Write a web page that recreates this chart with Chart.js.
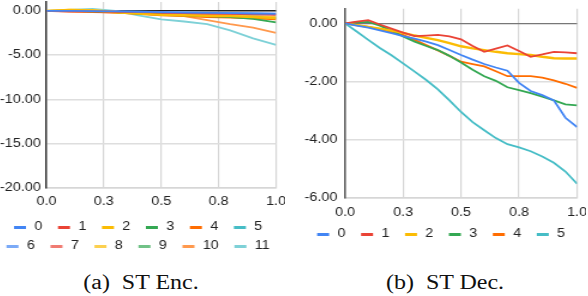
<!DOCTYPE html>
<html>
<head>
<meta charset="utf-8">
<script src="https://cdn.jsdelivr.net/npm/chart.js@4.4.1/dist/chart.umd.min.js"></script>
<style>
html, body { margin: 0; padding: 0; background: #fff; width: 588px; height: 296px; overflow: hidden; position: relative; }
.box { position: absolute; top: 0; }
.box canvas { display: block; }
.cap { position: absolute; top: 271.5px; width: 200px; text-align: center; white-space: pre;
       font: 20px/20px "Liberation Serif", "Times New Roman", serif; color: #111; transform: scaleX(1.2); }
</style>
</head>
<body>
<div class="box" style="left:-15.8px"><canvas id="enc" width="251" height="262" style="width:301.2px;height:262px"></canvas></div>
<div class="box" style="left:288.8px"><canvas id="dec" width="248" height="250" style="width:297.6px;height:250px"></canvas></div>
<div class="cap" style="left:41px">(a)  ST Enc.</div>
<div class="cap" style="left:344.7px">(b)  ST Dec.</div>
<script>
// x ticks shared by both panels
var xTicks = [0, 0.25, 0.5, 0.75, 1];

// (a) encoder: 12 layers
var encX = [0, 0.1, 0.2, 0.3, 0.4, 0.5, 0.6, 0.7, 0.8, 0.9, 1.0];
var encTicks = [-20, -15, -10, -5, 0];
var enc0  = [0, 0, -0.02, -0.05, -0.1, -0.15, -0.2, -0.22, -0.25, -0.3, -0.35];
var enc1  = [0, -0.02, -0.05, -0.1, -0.15, -0.2, -0.25, -0.3, -0.35, -0.4, -0.45];
var enc2  = [0, 0.1, 0.05, -0.15, -0.3, -0.45, -0.5, -0.55, -0.6, -0.7, -0.8];
var enc3  = [0, 0, -0.05, -0.15, -0.3, -0.4, -0.5, -0.6, -0.7, -0.9, -1.3];
var enc4  = [0, -0.05, -0.1, -0.2, -0.35, -0.5, -0.6, -0.7, -0.75, -0.85, -0.95];
var enc5  = [0, 0, -0.05, -0.15, -0.3, -0.45, -0.55, -0.6, -0.65, -0.75, -0.85];
var enc6  = [0, 0, 0, -0.05, -0.1, -0.12, -0.15, -0.2, -0.22, -0.25, -0.3];
var enc7  = [0, -0.1, -0.15, -0.2, -0.25, -0.28, -0.3, -0.32, -0.3, -0.35, -0.4];
var enc8  = [0, 0.15, 0.1, -0.1, -0.25, -0.35, -0.4, -0.45, -0.5, -0.6, -0.7];
var enc9  = [0, 0, -0.05, -0.1, -0.2, -0.3, -0.4, -0.45, -0.5, -0.6, -0.7];
var enc10 = [0, 0, -0.05, -0.1, -0.2, -0.35, -0.6, -1.05, -1.5, -1.9, -2.48];
var enc11 = [0, 0.1, 0.22, 0, -0.5, -0.95, -1.2, -1.5, -2.2, -3.1, -3.85];

// (b) decoder: 6 layers
var decX = [0, 0.05, 0.1, 0.15, 0.2, 0.25, 0.3, 0.35, 0.4, 0.45, 0.5, 0.55, 0.6, 0.65, 0.7, 0.75, 0.8, 0.85, 0.9, 0.95, 1.0];
var decTicks = [-6, -4, -2, 0];
var dec0 = [0, -0.08, -0.15, -0.24, -0.34, -0.44, -0.53, -0.63, -0.75, -0.92, -1.09, -1.25, -1.4, -1.52, -1.63, -2.05, -2.33, -2.47, -2.65, -3.25, -3.57];
var dec1 = [0, 0.06, 0.11, -0.04, -0.18, -0.32, -0.44, -0.42, -0.4, -0.45, -0.55, -0.78, -0.98, -0.87, -0.76, -0.95, -1.15, -1.07, -0.98, -1.0, -1.03];
var dec2 = [0, -0.06, -0.12, -0.18, -0.25, -0.33, -0.42, -0.5, -0.58, -0.68, -0.79, -0.86, -0.92, -0.98, -1.03, -1.06, -1.09, -1.15, -1.2, -1.21, -1.21];
var dec3 = [0, 0.03, 0.05, -0.08, -0.25, -0.45, -0.63, -0.78, -0.92, -1.12, -1.35, -1.6, -1.82, -1.98, -2.2, -2.3, -2.4, -2.52, -2.65, -2.79, -2.82];
var dec4 = [0, -0.06, -0.12, -0.2, -0.3, -0.4, -0.57, -0.75, -0.93, -1.12, -1.32, -1.4, -1.48, -1.65, -1.82, -1.82, -1.82, -1.87, -1.96, -2.08, -2.22];
var dec5 = [0, -0.28, -0.57, -0.85, -1.1, -1.38, -1.66, -1.95, -2.27, -2.65, -3.05, -3.4, -3.68, -3.95, -4.16, -4.27, -4.4, -4.58, -4.8, -5.1, -5.52];

var colors = ['#4285F4', '#EA4335', '#FBBC04', '#34A853', '#FF6D01', '#46BDC6',
              '#7BAAF7', '#F07B72', '#FCD04F', '#71C287', '#FF994D', '#7ED1D7'];

var FONT = { family: '"Liberation Sans", Arial, sans-serif', size: 12 };

// short bar used as legend marker
function marker(color) {
  var c = document.createElement('canvas');
  c.width = 17; c.height = 3;
  var g = c.getContext('2d');
  g.fillStyle = color;
  g.fillRect(6, 0, 10, 3);
  return c;
}

function series(xs, ys, i) {
  return {
    label: String(i),
    data: xs.map(function (x, k) { return { x: x, y: ys[k] }; }),
    borderColor: colors[i],
    backgroundColor: colors[i],
    borderWidth: i == 2 ? 2.4 : 1.8,
    pointRadius: 0,
    tension: 0
  };
}

function makeChart(id, datasets, yMin, yMax, yTicks, s) {
  return new Chart(document.getElementById(id), {
    type: 'line',
    data: { datasets: datasets },
    options: {
      responsive: false,
      animation: false,
      events: [],
      layout: { padding: { top: s.top, left: 0, right: 0, bottom: 0 } },
      scales: {
        x: {
          type: 'linear', min: 0, max: 1,
          afterBuildTicks: function (a) { a.ticks = xTicks.map(function (v) { return { value: v }; }); },
          afterFit: function (a) { a.height = s.hx; a.paddingLeft = 0; a.paddingRight = 7.5; },
          ticks: { padding: s.xpad, color: '#222', font: FONT, maxRotation: 0,
                   callback: function (v) { return v.toFixed(1); } },
          grid: { drawTicks: false, lineWidth: 1.2,
                  color: function (c) { return c.tick && c.tick.value === 0 ? 'rgba(0,0,0,0)' : '#d6d6d6'; } },
          border: { color: '#d6d6d6', width: 1.5 }
        },
        y: {
          min: yMin, max: yMax,
          afterBuildTicks: function (a) { a.ticks = yTicks.map(function (v) { return { value: v }; }); },
          afterFit: function (a) { a.width = s.yw; a.paddingTop = 0; a.paddingBottom = 0; },
          ticks: { padding: s.ypad, color: '#222', font: FONT,
                   callback: function (v) { return v.toFixed(2); } },
          grid: { drawTicks: false,
                  lineWidth: function (c) { return c.tick && c.tick.value === 0 ? s.zw : 1.5; },
                  color: function (c) { return c.tick && c.tick.value === 0 ? s.zero : '#dedede'; } },
          border: { color: s.axis, width: 1.5 }
        }
      },
      plugins: {
        tooltip: { enabled: false },
        legend: {
          position: 'bottom',
          labels: {
            usePointStyle: true, pointStyleWidth: 17, padding: 7, color: '#222', font: FONT,
            generateLabels: function (chart) {
              return Chart.defaults.plugins.legend.labels.generateLabels(chart).map(function (l) {
                l.pointStyle = marker(colors[l.datasetIndex]);
                return l;
              });
            }
          }
        }
      }
    }
  });
}

var encSets = [enc0, enc1, enc2, enc3, enc4, enc5, enc6, enc7, enc8, enc9, enc10, enc11]
  .map(function (ys, i) { return series(encX, ys, i); });
var decSets = [dec0, dec1, dec2, dec3, dec4, dec5]
  .map(function (ys, i) { return series(decX, ys, i); });

makeChart('enc', encSets, -20, 1, encTicks,
  { top: 2, hx: 26, yw: 52.1, xpad: 6.5, ypad: 4.75, zero: '#222', zw: 1.5, axis: '#333' });
makeChart('dec', decSets, -6, 0.5, decTicks,
  { top: 8.8, hx: 23.3, yw: 46.8, xpad: 7.4, ypad: 6.4, zero: '#777', zw: 1.2, axis: '#555' });
</script>
</body>
</html>
